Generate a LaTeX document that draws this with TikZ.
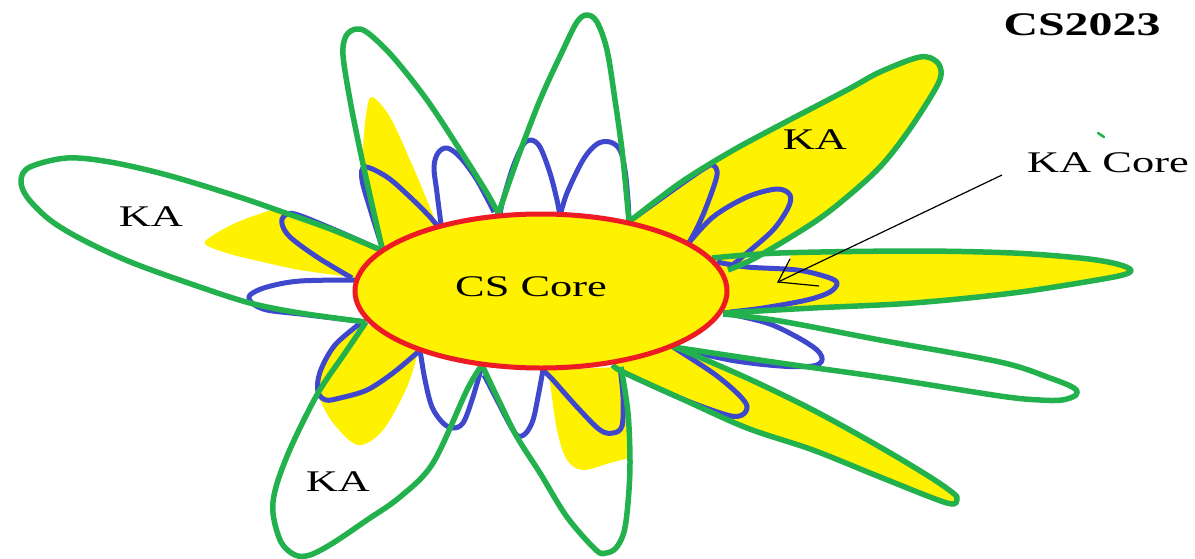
\documentclass[tikz,border=0pt]{standalone}
\usepackage{fontspec}
\setmainfont{Liberation Serif}
\definecolor{pgreen}{RGB}{34,177,76}
\definecolor{pblue}{RGB}{63,72,204}
\definecolor{pred}{RGB}{237,28,36}
\definecolor{pyellow}{RGB}{255,242,0}
% outer (green) petals
\newcommand\pGa{plot[smooth,tension=0.55] coordinates {(383,252) (371,200) (360,150) (350,100) (343,55) (346,36) (356,29) (368,33) (393,57) (427,100) (460,150) (487,193) (499,215)}}
\newcommand\pGb{plot[smooth,tension=0.55] coordinates {(498,215) (517,160) (540,100) (563,50) (577,22) (587,15) (597,22) (607,50) (615,100) (622,150) (627,200) (629,222)}}
\newcommand\pGc{plot[smooth,tension=0.55] coordinates {(630,221) (680,183) (730,152) (780,125) (847,90) (880,72) (920,57) (937,62) (941,75) (933,93) (907,133) (880,167) (847,197) (813,223) (757,257) (728,270)}}
\newcommand\pGd{plot[smooth,tension=0.55] coordinates {(712,258) (780,253) (913,251) (1013,253) (1080,258) (1113,263) (1130,269) (1126,274) (1097,280) (1013,293) (913,303) (813,308) (723,313)}}
\newcommand\pGe{plot[smooth,tension=0.55] coordinates {(723,314) (780,321) (880,340) (1000,362) (1050,378) (1074,388) (1076,395) (1062,400) (1040,400) (1000,396) (880,377) (780,363) (673,347)}}
\newcommand\pGf{plot[smooth,tension=0.55] coordinates {(673,347) (680,349) (747,378) (813,410) (880,447) (930,477) (953,493) (957,499) (947,503) (880,477) (813,450) (747,428) (680,398) (623,372) (613,365)}}
\newcommand\pGg{plot[smooth,tension=0.55] coordinates {(621,367) (628,413) (630,463) (628,503) (624,532) (616,548) (606,553) (596,550) (567,517) (540,473) (517,437) (500,403) (482,365)}}
\newcommand\pGh{plot[smooth,tension=0.55] coordinates {(482,365) (467,390) (433,463) (400,497) (367,520) (333,543) (310,555) (295,555) (281,542) (273,513) (276,487) (291,447) (318,393) (345,353) (366,322)}}
\newcommand\pGi{plot[smooth,tension=0.55] coordinates {(366,322) (300,313) (250,303) (200,287) (133,263) (83,240) (50,220) (27,197) (21,180) (30,167) (67,158) (110,162) (167,175) (233,195) (277,210) (333,230) (383,251)}}
% inner (blue) petals
\newcommand\pBa{plot[smooth,tension=0.55] coordinates {(383,250) (372,215) (362,180) (365,167) (387,177) (410,197) (430,217) (442,232)}}
\newcommand\pBb{plot[smooth,tension=0.55] coordinates {(442,232) (437,193) (434,167) (438,153) (447,148) (460,157) (477,180) (494,212)}}
\newcommand\pBc{plot[smooth,tension=0.55] coordinates {(500,214) (503,200) (513,167) (523,145) (531,140) (540,147) (550,173) (557,200) (560,216)}}
\newcommand\pBd{plot[smooth,tension=0.55] coordinates {(560,216) (567,193) (583,160) (597,144) (610,142) (620,150) (625,170) (628,200) (629,222)}}
\newcommand\pBe{plot[smooth,tension=0.55] coordinates {(630,221) (680,185) (705,168) (713,165) (717,175) (707,205) (697,228) (687,246)}}
\newcommand\pBf{plot[smooth,tension=0.55] coordinates {(687,245) (713,217) (747,197) (777,189) (790,195) (788,208) (773,230) (747,253) (730,267)}}
\newcommand\pBg{plot[smooth,tension=0.55] coordinates {(717,262) (747,267) (797,270) (827,277) (837,283) (830,292) (807,300) (763,308) (730,312)}}
\newcommand\pBh{plot[smooth,tension=0.55] coordinates {(725,313) (767,323) (797,337) (817,350) (822,360) (813,366) (780,366) (730,360) (673,347)}}
\newcommand\pBi{plot[smooth,tension=0.55] coordinates {(673,347) (713,373) (737,393) (747,406) (742,415) (727,415) (680,398) (623,372) (613,365)}}
\newcommand\pBj{plot[smooth,tension=0.55] coordinates {(620,367) (623,397) (622,426) (613,433) (600,430) (577,407) (553,380) (543,370)}}
\newcommand\pBk{plot[smooth,tension=0.55] coordinates {(543,370) (538,397) (533,420) (526,433) (518,436) (510,425) (497,400) (484,375)}}
\newcommand\pBl{plot[smooth,tension=0.55] coordinates {(420,350) (425,380) (432,407) (443,423) (453,428) (463,423) (472,400) (482,366)}}
\newcommand\pBm{plot[smooth,tension=0.55] coordinates {(418,352) (393,373) (367,390) (340,398) (326,400) (318,392) (320,372) (335,345) (362,322)}}
\newcommand\pBn{plot[smooth,tension=0.55] coordinates {(358,280) (300,281) (267,287) (250,295) (252,303) (267,310) (300,314) (366,322)}}
\newcommand\pBo{plot[smooth,tension=0.55] coordinates {(352,278) (317,257) (290,237) (282,224) (284,216) (295,214) (333,229) (383,251)}}
\begin{document}
\begin{tikzpicture}[x=1pt,y=-1pt,
  gline/.style={draw=pgreen,line width=5.5pt,line join=round},
  bline/.style={draw=pblue,line width=5pt,line join=round},
  yfill/.style={fill=pyellow},
  lbl/.style={inner sep=0pt,font=\fontsize{30}{36}\selectfont},
  arrowline/.style={draw=black,line width=1.2pt}]
\useasboundingbox (0,0) rectangle (1195,558);
\fill[white] (0,0) rectangle (1195,558);
% yellow outer petals
\path[yfill] \pGc -- cycle;
\path[yfill] \pGd -- cycle;
\path[yfill] \pGf -- cycle;
\fill[white] (745,257) -- (790,254) -- (790,262) -- (782,269) -- (748,266) -- cycle;
% yellow patches inside white petals
\fill[pyellow] (384,255) -- (371,200) -- plot[smooth,tension=0.55] coordinates {(362,160) (366,115) (372,97) (390,117) (410,160) (427,200) (438,228)} -- (442,240) -- cycle;
\fill[pyellow] plot[smooth,tension=0.55] coordinates {(350,277) (300,270) (267,263) (230,254) (205,244) (215,234) (240,221) (277,208)} -- (333,229) -- (385,252) -- (362,290) -- cycle;
\fill[pyellow] (362,322) -- (345,353) -- (320,398) -- plot[smooth,tension=0.55] coordinates {(320,400) (333,423) (358,445) (383,430) (407,387) (418,352)} -- (400,340) -- cycle;
\fill[pyellow] (543,370) -- plot[smooth,tension=0.55] coordinates {(550,382) (557,430) (567,460) (583,470) (610,463) (629,458)} -- (628,413) -- (621,367) -- (580,372) -- cycle;
% inner petal fills
\path[yfill] \pBa -- cycle;
\path[yfill] \pBe -- cycle;
\path[yfill] \pBf -- cycle;
\path[yfill] \pBg -- cycle;
\path[yfill] \pBi -- cycle;
\path[yfill] \pBj -- cycle;
\path[yfill] \pBm -- cycle;
\path[yfill] \pBo -- cycle;
\path[fill=white] \pBk -- cycle;
\path[fill=white] \pBl -- cycle;
% inner petal outlines
\path[bline] \pBa; \path[bline] \pBb; \path[bline] \pBc; \path[bline] \pBd;
\path[bline] \pBe; \path[bline] \pBf; \path[bline] \pBg; \path[bline] \pBh;
\path[bline] \pBi; \path[bline] \pBj; \path[bline] \pBk; \path[bline] \pBl;
\path[bline] \pBm; \path[bline] \pBn; \path[bline] \pBo;
% outer petal outlines
\path[gline] \pGa; \path[gline] \pGb; \path[gline] \pGc; \path[gline] \pGd;
\path[gline] \pGe; \path[gline] \pGf; \path[gline] \pGg; \path[gline] \pGh;
\path[gline] \pGi;
% core
\draw[pred,line width=5pt,fill=pyellow] (541,291) ellipse [x radius=186pt, y radius=77pt];
% labels
\node[lbl] (cscore) at (531,287) {\scalebox{1.48}[1]{CS Core}};
\node[lbl] (kaleft) at (151,217) {\scalebox{1.48}[1]{KA}};
\node[lbl] (karight) at (815,140) {\scalebox{1.48}[1]{KA}};
\node[lbl] (kabottom) at (338,482) {\scalebox{1.48}[1]{KA}};
\node[lbl] (kacore) at (1108,163) {\scalebox{1.48}[1]{KA Core}};
\node[inner sep=0pt,font=\fontsize{33}{38}\selectfont\bfseries] (title) at (1082,25) {\scalebox{1.45}[1]{CS2023}};
% pointer
\coordinate (arrowstart) at (1002,175);
\coordinate (arrowtip) at (778,282);
\coordinate (headA) at (790,259);
\coordinate (headB) at (819,286);
\draw[arrowline] (arrowstart) -- (arrowtip);
\draw[arrowline] (headA) -- (arrowtip) -- (headB);
% small green mark
\coordinate (markA) at (1098,133);
\coordinate (markB) at (1104,137);
\draw[pgreen,line width=2.5pt,line cap=round] (markA) -- (markB);
\end{tikzpicture}
\end{document}
